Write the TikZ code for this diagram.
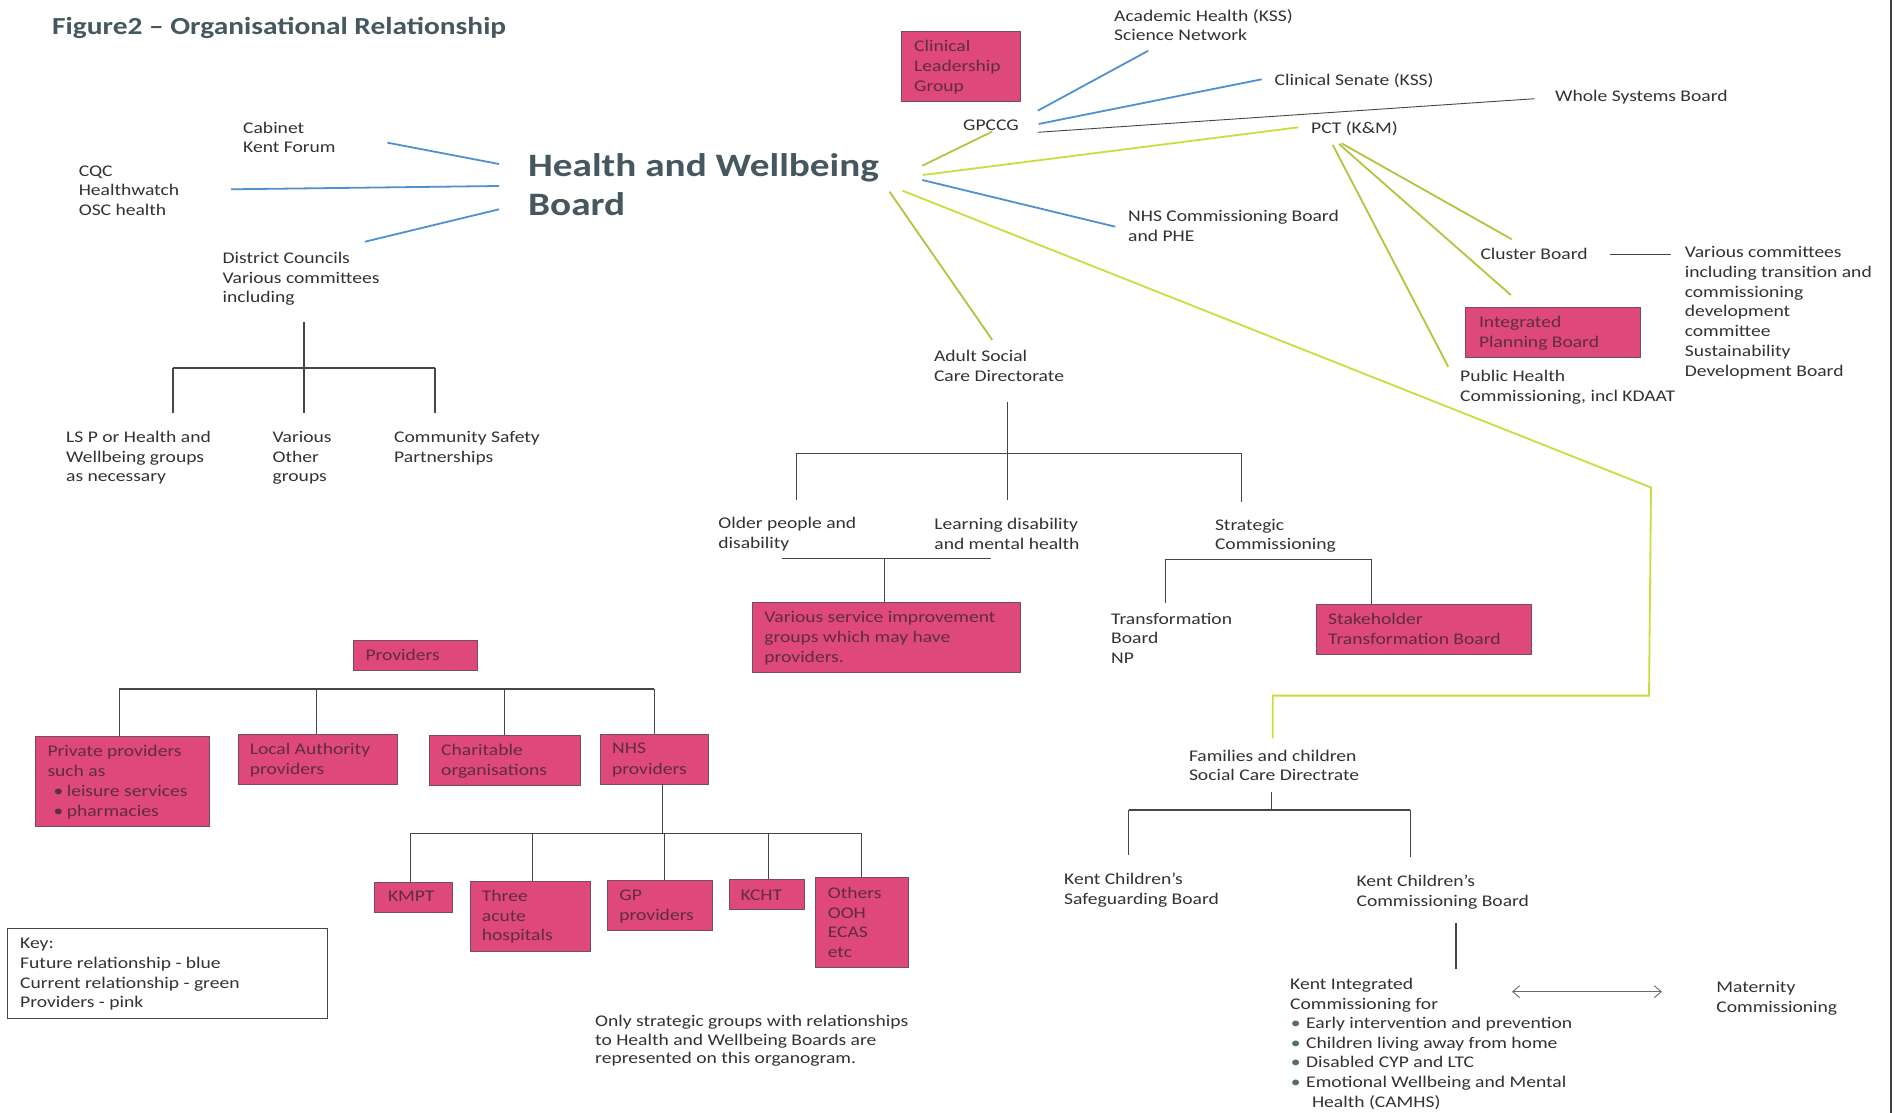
\documentclass[tikz,border=0pt]{standalone}
\usepackage{fontspec}
\setmainfont{Carlito}[FakeStretch=1.2]
\usetikzlibrary{arrows.meta}
\definecolor{pinkf}{RGB}{222,72,122}
\definecolor{pinkd}{RGB}{115,80,90}
\definecolor{pinkt}{RGB}{95,45,60}
\definecolor{txtc}{RGB}{50,50,50}
\definecolor{titc}{RGB}{70,88,95}
\definecolor{bluel}{RGB}{80,145,205}
\definecolor{greenl}{RGB}{205,220,60}
\definecolor{olivel}{RGB}{176,198,62}
\definecolor{treec}{RGB}{70,70,70}
\definecolor{bulc}{RGB}{80,110,110}
\newcommand\bodyfont{\fontsize{16.3}{19.5}\selectfont}
\newcommand\titlefont{\fontsize{24.5}{29}\selectfont\bfseries}
\newcommand\hwbfont{\fontsize{32.7}{39}\selectfont\bfseries}
\newcommand\st{\rule{0pt}{13pt}}
\newcommand\bul{\makebox[13.3pt][l]{•}}
\newcommand\kbul{\hspace*{0.6pt}\makebox[15.4pt][l]{\textcolor{bulc}{•}}}
\begin{document}
\begin{tikzpicture}[x=1pt,y=-1pt,
  txtbase/.style={anchor=north west, inner sep=0pt, align=left, font=\bodyfont, text=txtc},
  txt/.style={txtbase, yshift=13pt},
  ptxt/.style={txt, text=pinkt},
  pbox/.style={draw=pinkd, fill=pinkf, line width=1pt, anchor=north west, inner sep=0pt},
  bline/.style={draw=bluel, line width=1.8pt},
  gline/.style={draw=greenl, line width=1.8pt},
  oline/.style={draw=olivel, line width=1.8pt},
  tree/.style={draw=treec, line width=1.1pt},
  thin/.style={draw=treec, line width=0.9pt}]
\useasboundingbox (0,0) rectangle (1897,1113);
\fill[white] (0,0) rectangle (1897,1113);
\draw[draw=black!75, line width=2pt] (1891,0) -- (1891,1113);

% ---------- text nodes ----------
\node[anchor=base west, inner sep=0pt, font=\titlefont, text=titc] (title) at (52,35) {Figure2 – Organisational Relationship};
\node[txtbase, font=\hwbfont, text=titc, yshift=27pt] (hwb) at (528,176) {\rule{0pt}{27pt}Health and Wellbeing\\Board};
\node[txt] (cabinet) at (243,133) {\st Cabinet\\Kent Forum};
\node[txt] (cqc) at (78.6,176) {\st CQC\\Healthwatch\\OSC health};
\node[txt] (district) at (222.5,263.3) {\st District Councils\\Various committees\\including};
\node[txt] (lsp) at (66,442.7) {\st LS P or Health and\\Wellbeing groups\\as necessary};
\node[txt] (various) at (272.5,442.7) {\st Various\\Other\\groups};
\node[txt] (csp) at (394,442.5) {\st Community Safety\\Partnerships};
\node[txt] (gpccg) at (963,130.7) {\st GPCCG};
\node[txt] (academic) at (1114,21) {\st Academic Health (KSS)\\Science Network};
\node[txt] (senate) at (1274.4,85) {\st Clinical Senate (KSS)};
\node[txt] (whole) at (1555,101) {\st Whole Systems Board};
\node[txt] (pct) at (1311,133.3) {\st PCT (K\&M)};
\node[txt] (nhscb) at (1128,221.7) {\st NHS Commissioning Board\\and PHE};
\node[txt] (cluster) at (1480.3,259.3) {\st Cluster Board};
\node[txt, font=\fontsize{16.3}{19.8}\selectfont] (varcom) at (1684.6,257.3) {\st Various committees\\including transition and\\commissioning\\development\\committee\\Sustainability\\Development Board};
\node[txt] (pubh) at (1460,381.7) {\st Public Health\\Commissioning, incl KDAAT};
\node[txt] (adult) at (933.8,361.7) {\st Adult Social\\Care Directorate};
\node[txt] (older) at (718.2,528.3) {\st Older people and\\disability};
\node[txt] (learning) at (934.2,529.3) {\st Learning disability\\and mental health};
\node[txt] (strat) at (1214.8,530) {\st Strategic\\Commissioning};
\node[txt] (transf) at (1111,624) {\st Transformation\\Board\\NP};
\node[txt] (families) at (1188.8,761) {\st Families and children\\Social Care Directrate};
\node[txt] (kcsb) at (1064,884.3) {\st Kent Children’s\\Safeguarding Board};
\node[txt] (kccb) at (1356.4,886.7) {\st Kent Children’s\\Commissioning Board};
\node[txt, font=\fontsize{16.3}{19.6}\selectfont] (kic) at (1290,989.3) {\st Kent Integrated\\Commissioning for\\\kbul Early intervention and prevention\\\kbul Children living away from home\\\kbul Disabled CYP and LTC\\\kbul Emotional Wellbeing and Mental\\\hspace*{21.8pt}Health (CAMHS)};
\node[txt] (maternity) at (1716.2,992.7) {\st Maternity\\Commissioning};
\node[txt, font=\fontsize{16.3}{18.3}\selectfont] (note) at (595,1026.7) {\st Only strategic groups with relationships\\to Health and Wellbeing Boards are\\represented on this organogram.};
\node[draw=treec, line width=1pt, anchor=north west, inner sep=0pt, minimum width=320pt, minimum height=90pt] (keybox) at (7.3,928.3) {};
\node[txt, font=\fontsize{16.3}{19.8}\selectfont] (key) at (20,948.3) {\st Key:\\Future relationship - blue\\Current relationship - green\\Providers - pink};

% ---------- pink boxes ----------
\node[pbox, minimum width=119pt, minimum height=70pt] (clg) at (901,31) {};
\node[ptxt, font=\fontsize{16.3}{20}\selectfont] (clg-t) at (914,51.7) {\st Clinical\\Leadership\\Group};
\node[pbox, minimum width=175.4pt, minimum height=50pt] (ipb) at (1465,307.3) {};
\node[ptxt, font=\fontsize{16.3}{20}\selectfont] (ipb-t) at (1478.8,327.3) {\st Integrated\\Planning Board};
\node[pbox, minimum width=268.2pt, minimum height=70.6pt] (vsi) at (751.8,601.7) {};
\node[ptxt, font=\fontsize{16.3}{20}\selectfont] (vsi-t) at (764.2,622.7) {\st Various service improvement\\groups which may have\\providers.};
\node[pbox, minimum width=215.5pt, minimum height=50pt] (stb) at (1315.8,604) {};
\node[ptxt, font=\fontsize{16.3}{20}\selectfont] (stb-t) at (1328,624.3) {\st Stakeholder\\Transformation Board};
\node[pbox, minimum width=123.6pt, minimum height=30pt] (prov) at (353.2,640) {};
\node[ptxt] (prov-t) at (365.3,660) {\st Providers};
\node[pbox, minimum width=174.5pt, minimum height=89.7pt] (priv) at (34.5,736) {};
\node[ptxt, font=\fontsize{16.3}{19.8}\selectfont] (priv-t) at (47.3,756.7) {\st Private providers\\such as\\\hspace*{6pt}\bul leisure services\\\hspace*{6pt}\bul pharmacies};
\node[pbox, minimum width=159.3pt, minimum height=49.7pt] (la) at (237.5,734.3) {};
\node[ptxt, font=\fontsize{16.3}{20}\selectfont] (la-t) at (249.6,754.3) {\st Local Authority\\providers};
\node[pbox, minimum width=150.8pt, minimum height=50pt] (char) at (429,735) {};
\node[ptxt, font=\fontsize{16.3}{20}\selectfont] (char-t) at (441,755) {\st Charitable\\organisations};
\node[pbox, minimum width=107.9pt, minimum height=50pt] (nhsp) at (599.8,734) {};
\node[ptxt, font=\fontsize{16.3}{20.5}\selectfont] (nhsp-t) at (612,753.3) {\st NHS\\providers};
\node[pbox, minimum width=77.6pt, minimum height=30pt] (kmpt) at (374.4,882) {};
\node[ptxt] (kmpt-t) at (387.8,901.7) {\st KMPT};
\node[pbox, minimum width=119.9pt, minimum height=70.3pt] (three) at (469.6,880.7) {};
\node[ptxt, font=\fontsize{16.3}{19.5}\selectfont] (three-t) at (481.7,901.7) {\st Three\\acute\\hospitals};
\node[pbox, minimum width=105.4pt, minimum height=50pt] (gp) at (606.5,880) {};
\node[ptxt, font=\fontsize{16.3}{20}\selectfont] (gp-t) at (619.2,900) {\st GP\\providers};
\node[pbox, minimum width=75.1pt, minimum height=30pt] (kcht) at (728.9,879.3) {};
\node[ptxt] (kcht-t) at (740.4,900) {\st KCHT};
\node[pbox, minimum width=92.6pt, minimum height=90pt] (others) at (815,877.3) {};
\node[ptxt, font=\fontsize{16.3}{19.5}\selectfont] (others-t) at (827.6,898.3) {\st Others\\OOH\\ECAS\\etc};

% ---------- connector end points ----------
\coordinate (cab-e) at (387.5,142.7);  \coordinate (hwb-1) at (499,164);
\coordinate (cqc-e) at (231,189.3);    \coordinate (hwb-2) at (499,186);
\coordinate (dis-e) at (365,241.7);    \coordinate (hwb-3) at (499,209.3);
\coordinate (hwb-4) at (922.3,180);    \coordinate (nhscb-w) at (1115.3,226.7);
\coordinate (gp-1) at (1037.8,110.7);  \coordinate (acad-s) at (1148.3,50.7);
\coordinate (gp-2) at (1038.6,124);    \coordinate (sen-w) at (1261.7,79.3);
\coordinate (gp-3) at (1037.8,132.3);  \coordinate (whole-w) at (1534.7,98.7);
\coordinate (gp-4) at (992,131.7);     \coordinate (hwb-5) at (922.3,165.7);
\coordinate (hwb-6) at (923,175);      \coordinate (pct-w) at (1298.3,127.3);
\coordinate (hwb-7) at (889.5,191.7);  \coordinate (adult-n) at (992.3,340);
\coordinate (hwb-8) at (902.5,190.7);  \coordinate (bend1) at (1651,487.5);
\coordinate (bend2) at (1649,695.6);   \coordinate (bend3) at (1272.7,695.6);
\coordinate (fam-n) at (1272.7,738.3);
\coordinate (pct-1) at (1341.5,143.3); \coordinate (clu-n) at (1511.8,239.3);
\coordinate (pct-2) at (1339,144);     \coordinate (ipb-n) at (1510.8,295);
\coordinate (pct-3) at (1332.8,145);   \coordinate (pubh-n) at (1448.2,366.7);
\coordinate (clu-e) at (1609.9,254);   \coordinate (var-w) at (1670.9,254);

% ---------- relationship lines ----------
\draw[bline] (cab-e) -- (hwb-1);
\draw[bline] (cqc-e) -- (hwb-2);
\draw[bline] (dis-e) -- (hwb-3);
\draw[bline] (hwb-4) -- (nhscb-w);
\draw[bline] (gp-1) -- (acad-s);
\draw[bline] (gp-2) -- (sen-w);
\draw[thin] (gp-3) -- (whole-w);
\draw[oline] (gp-4) -- (hwb-5);
\draw[gline] (hwb-6) -- (pct-w);
\draw[oline] (hwb-7) -- (adult-n);
\draw[gline] (hwb-8) -- (bend1) -- (bend2) -- (bend3) -- (fam-n);
\draw[oline] (pct-1) -- (clu-n);
\draw[oline] (pct-2) -- (ipb-n);
\draw[oline] (pct-3) -- (pubh-n);
\draw[thin] (clu-e) -- (var-w);

% ---------- district tree ----------
\coordinate (d0) at (304,321.7);
\coordinate (dL) at (173,368); \coordinate (dM) at (304,368); \coordinate (dR) at (435,368);
\draw[tree] (d0) -- (304,413);
\draw[tree] (dL) -- (dR);
\draw[tree] (dL) -- (173,413);
\draw[tree] (dR) -- (435,413);

% ---------- adult tree ----------
\coordinate (a0) at (1007.2,401.7);
\coordinate (aL) at (796.2,453.3); \coordinate (aR) at (1241.2,453.3);
\draw[tree] (a0) -- (1007.2,500);
\draw[tree] (aL) -- (aR);
\draw[tree] (aL) -- (796.2,500);
\draw[tree] (aR) -- (1241.2,501.7);
\coordinate (oL) at (782.1,558.3); \coordinate (oR) at (991.4,558.3); \coordinate (oM) at (884.8,558.3);
\draw[tree] (oL) -- (oR);
\draw[tree] (oM) -- (oM |- vsi.north);
\coordinate (sL) at (1165.4,559.3); \coordinate (sR) at (1371.9,559.3);
\draw[tree] (sL) -- (sR);
\draw[tree] (sL) -- (1165.4,602.7);
\draw[tree] (sR) -- (sR |- stb.north);

% ---------- providers tree ----------
\coordinate (p1) at (119.4,689); \coordinate (p2) at (316.9,689);
\coordinate (p3) at (504.1,689); \coordinate (p4) at (654.3,689);
\draw[tree] (p1) -- (p4);
\draw[tree] (p1) -- (p1 |- priv.north);
\draw[tree] (p2) -- (p2 |- la.north);
\draw[tree] (p3) -- (p3 |- char.north);
\draw[tree] (p4) -- (p4 |- nhsp.north);
\coordinate (n0) at (662.2,784);
\coordinate (n1) at (410.2,833.3); \coordinate (n2) at (532.6,833.3);
\coordinate (n3) at (664.7,833.3); \coordinate (n4) at (768.3,833.3);
\coordinate (n5) at (861.6,833.3);
\draw[tree] (n0) -- (662.2,833.3);
\draw[tree] (n1) -- (n5);
\draw[tree] (n1) -- (n1 |- kmpt.north);
\draw[tree] (n2) -- (n2 |- three.north);
\draw[tree] (n3) -- (n3 |- gp.north);
\draw[tree] (n4) -- (n4 |- kcht.north);
\draw[tree] (n5) -- (n5 |- others.north);

% ---------- families tree ----------
\coordinate (f0) at (1271.7,791.7);
\coordinate (fL) at (1128.7,810); \coordinate (fR) at (1410.2,810);
\draw[tree] (f0) -- (1271.7,810);
\draw[tree] (fL) -- (fR);
\draw[tree] (fL) -- (1128.7,855);
\draw[tree] (fR) -- (1410.2,856.7);
\coordinate (k0) at (1456,922.7); \coordinate (k1) at (1456,969.3);
\draw[tree] (k0) -- (k1);
\coordinate (arA) at (1512,991.7); \coordinate (arB) at (1661.9,991.7);
\draw[draw=treec!80, line width=0.9pt, {Straight Barb[length=7pt,width=12pt]}-{Straight Barb[length=7pt,width=12pt]}] (arA) -- (arB);
\end{tikzpicture}
\end{document}
